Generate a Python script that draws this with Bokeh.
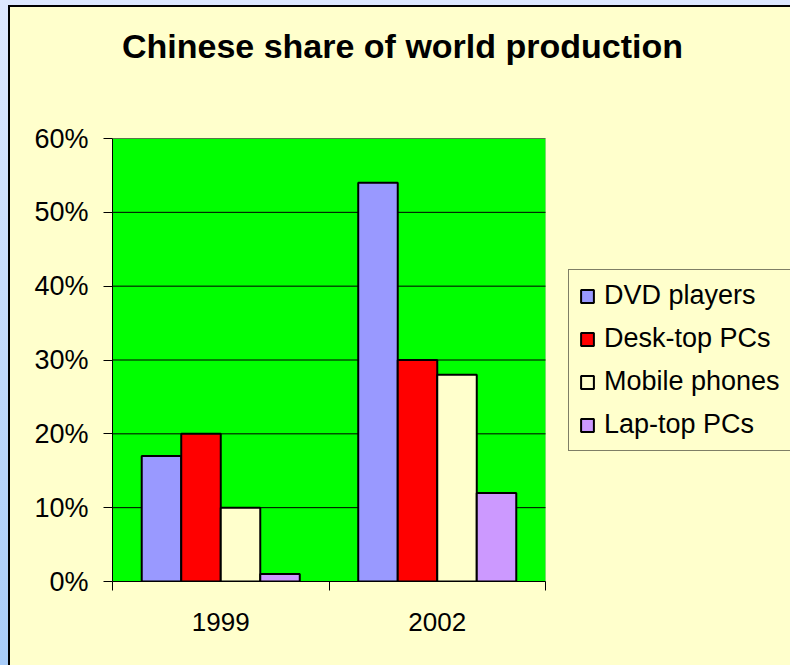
from bokeh.plotting import figure
from bokeh.models import (ColumnDataSource, Range1d, FixedTicker, NumeralTickFormatter,
                          Legend, LegendItem, LinearAxis, BoxAnnotation)
from bokeh.transform import dodge
from bokeh.embed import file_html
from bokeh.resources import INLINE

# ---- data ----
years = ["1999", "2002"]
series = ["DVD players", "Desk-top PCs", "Mobile phones", "Lap-top PCs"]
dvd_players = [0.17, 0.54]
desktop_pcs = [0.20, 0.30]
mobile_phones = [0.10, 0.28]
laptop_pcs = [0.01, 0.12]
y_ticks = [0.0, 0.1, 0.2, 0.3, 0.4, 0.5, 0.6]
title_text = "Chinese share of world production"

colors = ["#9999FF", "#FF0000", "#FFFFCC", "#CC99FF"]
FONT = "Liberation Sans"

n = len(years)
xs = [i + 0.5 for i in range(n)]
source = ColumnDataSource(dict(x=xs, dvd=dvd_players, desk=desktop_pcs,
                               mob=mobile_phones, lap=laptop_pcs))
fields = ["dvd", "desk", "mob", "lap"]

W, H = 790, 665
LEFT, TOP, BOTTOM = 112, 138, 84
PLOT_W = 433                      # width of the green plot area in px
frame_w = W - LEFT                # the frame runs to the right edge (legend lives inside it)
TITLE_CX = 402                    # horizontal centre of the title in px

p = figure(width=W, height=H, output_backend="svg", toolbar_location=None,
           x_range=Range1d(0, n * frame_w / PLOT_W), y_range=Range1d(0, y_ticks[-1]),
           min_border_left=LEFT, min_border_right=0, min_border_top=TOP,
           min_border_bottom=BOTTOM)
p.background_fill_color = "#FFFFCC"
# border area transparent: the element's CSS background draws the blue margin,
# the black chart border and the pale-yellow chart area
p.border_fill_alpha = 0
p.styles = {"background": ("linear-gradient(#FFFFCC,#FFFFCC) 10px 7px / 100% 100% no-repeat, "
                           "linear-gradient(#000000,#000000) 8px 5px / 100% 100% no-repeat, "
                           "linear-gradient(#DDE8FF, #A8CCF8)")}
p.outline_line_color = None
p.xgrid.grid_line_color = None
p.ygrid.grid_line_color = None

# green plot area with grey border
p.add_layout(BoxAnnotation(left=0, right=n, bottom=y_ticks[0], top=y_ticks[-1],
                           fill_color="#00FF00", fill_alpha=1,
                           line_color="#808080", line_width=1, level="image"))

# horizontal gridlines across the plot area only
p.segment(x0=[0] * len(y_ticks), x1=[n] * len(y_ticks), y0=y_ticks, y1=y_ticks,
          line_color="black", line_width=1, level="underlay")

# title drawn as the single tick label of a bare axis above the frame
title_pos = (TITLE_CX - LEFT) / PLOT_W * n
title_axis = LinearAxis(ticker=FixedTicker(ticks=[title_pos], minor_ticks=[]),
                        major_label_overrides={title_pos: title_text},
                        major_tick_out=0, major_tick_in=0,
                        minor_tick_out=0, minor_tick_in=0, major_label_standoff=74,
                        axis_line_color=None, major_tick_line_color=None,
                        minor_tick_line_color=None,
                        major_label_text_font=FONT, major_label_text_font_size="34px",
                        major_label_text_font_style="bold", major_label_text_color="black")
p.add_layout(title_axis, "above")

bw = 0.1825
renderers = []
for i, f in enumerate(fields):
    r = p.vbar(x=dodge("x", (i - 1.5) * bw, range=p.x_range), top=f, width=bw,
               source=source, fill_color=colors[i], line_color="black", line_width=2)
    renderers.append(r)

# axes
xa = p.below[0]
xa.bounds = (0, n)
xa.ticker = FixedTicker(ticks=xs, minor_ticks=list(range(n + 1)))
xa.major_label_overrides = {x: y for x, y in zip(xs, years)}
xa.major_tick_out = 0
xa.major_tick_in = 0
xa.minor_tick_out = 9
xa.minor_tick_in = 0
xa.minor_tick_line_color = "black"
xa.axis_line_color = "black"
xa.major_label_text_font = FONT
xa.major_label_text_font_size = "26px"
xa.major_label_text_color = "black"
xa.major_label_standoff = 22

ya = p.left[0]
ya.ticker = FixedTicker(ticks=y_ticks)
ya.formatter = NumeralTickFormatter(format="0%")
ya.major_tick_out = 9
ya.major_tick_in = 0
ya.minor_tick_line_color = None
ya.axis_line_color = "black"
ya.major_label_text_font = FONT
ya.major_label_text_font_size = "27px"
ya.major_label_text_color = "black"
ya.major_label_standoff = 15

legend = Legend(items=[LegendItem(label=s, renderers=[r]) for s, r in zip(series, renderers)],
                location=(456, 130))
legend.label_text_font = FONT
legend.label_text_font_size = "27px"
legend.label_text_color = "black"
legend.glyph_width = 16
legend.glyph_height = 16
legend.label_standoff = 9
legend.label_height = 31
legend.spacing = 12
legend.padding = 10
legend.margin = 0
legend.border_line_color = "black"
legend.border_line_width = 1
legend.background_fill_color = "#FFFFCC"
legend.background_fill_alpha = 1
p.add_layout(legend, "center")

open("out.html", "w").write(file_html(p, INLINE))
